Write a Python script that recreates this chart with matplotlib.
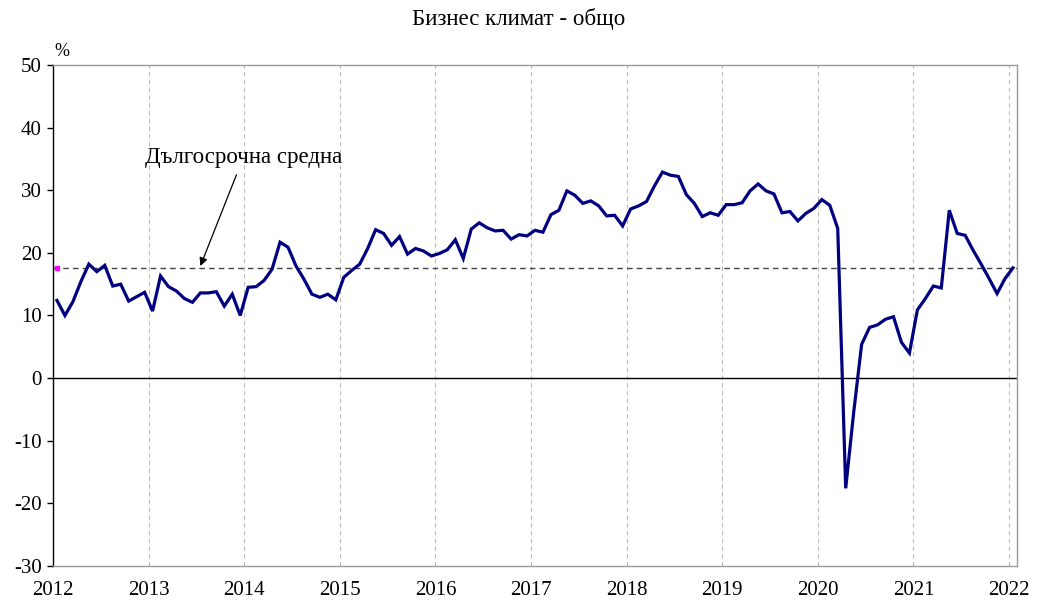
import matplotlib
matplotlib.use("Agg")
import matplotlib.pyplot as plt
import numpy as np

years = [str(y) for y in range(2012, 2023)]
values = [
    # 2012
    12.4, 10.0, 12.2, 15.4, 18.2, 17.0, 18.0, 14.7, 15.0, 12.3, 13.0, 13.7,
    # 2013
    10.7, 16.3, 14.6, 13.9, 12.7, 12.1, 13.6, 13.6, 13.8, 11.5, 13.4, 10.0,
    # 2014
    14.5, 14.6, 15.6, 17.4, 21.7, 20.9, 17.9, 15.8, 13.4, 12.9, 13.4, 12.5,
    # 2015
    16.1, 17.2, 18.2, 20.7, 23.7, 23.1, 21.2, 22.6, 19.8, 20.7, 20.3, 19.5,
    # 2016
    19.9, 20.5, 22.1, 19.1, 23.8, 24.8, 24.0, 23.5, 23.6, 22.2, 22.9, 22.7,
    # 2017
    23.6, 23.3, 26.1, 26.8, 29.9, 29.2, 27.9, 28.3, 27.5, 25.9, 26.0, 24.3,
    # 2018
    27.0, 27.5, 28.2, 30.7, 32.9, 32.4, 32.2, 29.3, 27.9, 25.8, 26.4, 26.0,
    # 2019
    27.7, 27.7, 28.0, 29.9, 31.0, 29.9, 29.4, 26.4, 26.6, 25.1, 26.3, 27.1,
    # 2020
    28.5, 27.6, 23.9, -17.6, -5.5, 5.4, 8.1, 8.5, 9.4, 9.8, 5.7, 4.0,
    # 2021
    10.9, 12.7, 14.7, 14.4, 26.8, 23.1, 22.8, 20.4, 18.2, 15.9, 13.5, 15.9,
    # 2022
    17.6,
]
long_term_avg = 17.6
yticks = [-30, -20, -10, 0, 10, 20, 30, 40, 50]

serif = ["Liberation Serif", "DejaVu Serif"]
plt.rcParams["font.family"] = serif

fig = plt.figure(figsize=(10.37, 6.0), dpi=100)
ax = fig.add_axes([0.0511, 0.0567, 0.9296, 0.835])

n = len(values)
x = np.arange(n) + 0.5

ax.set_xlim(0, n)
ax.set_ylim(-30, 50)

# vertical year gridlines
for k in range(1, len(years)):
    ax.axvline(12 * k, color="#bbbbbb", lw=0.8, ls=(0, (4, 3)), zorder=1)

ax.axhline(0, color="black", lw=1.0, zorder=2)
ax.axhline(long_term_avg, color="#444444", lw=1.0, ls=(0, (4, 3)), zorder=2)

ax.plot(x, values, color="#000080", lw=2.3, zorder=3, solid_joinstyle="miter")
ax.plot([x[0]], [long_term_avg], marker="s", ms=3, color="#ff00ff", zorder=4, ls="none")

ax.set_xticks([12 * k for k in range(len(years))])
ax.set_xticklabels(years, fontsize=15)
ax.tick_params(axis="x", length=0, pad=11)
ax.set_yticks(yticks)
ax.set_yticklabels([str(t) for t in yticks], fontsize=15)
ax.tick_params(axis="y", direction="out", length=4, width=1, color="black", pad=4)

for side in ["top", "right", "bottom"]:
    ax.spines[side].set_color("#999999")
    ax.spines[side].set_linewidth(1.0)
ax.spines["left"].set_color("black")
ax.spines["left"].set_linewidth(1.0)

fig.text(0.5, 0.968, "Бизнес климат - общо", ha="center", va="center", fontsize=16.5)
fig.text(0.06, 0.915, "%", ha="center", va="center", fontsize=13)

ax.annotate("Дългосрочна средна",
            xy=(18.5, long_term_avg + 0.3), xytext=(11.5, 35.2),
            textcoords="data", fontsize=16.5, ha="left", va="center",
            arrowprops=dict(arrowstyle="-|>", color="black", lw=0.9,
                            shrinkA=3, shrinkB=0, mutation_scale=12))

fig.savefig("out.png", dpi=100)
